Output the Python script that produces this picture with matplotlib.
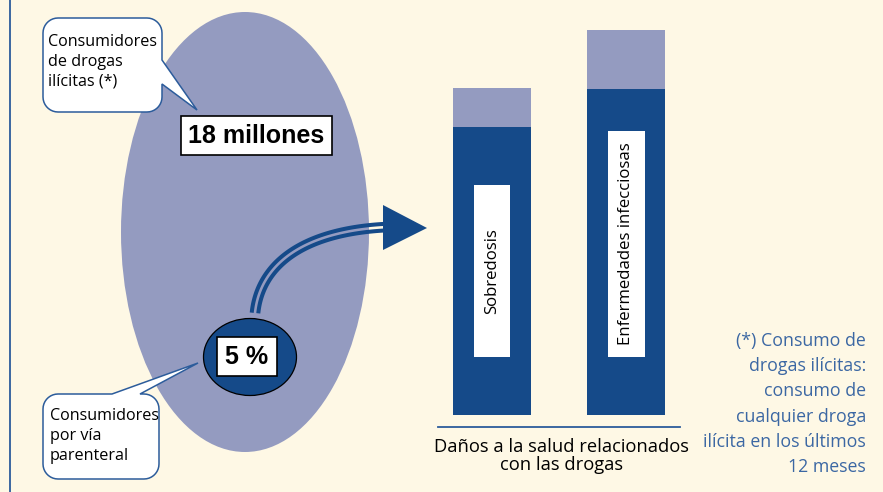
import numpy as np
import matplotlib
matplotlib.use("Agg")
import matplotlib.pyplot as plt
from matplotlib.patches import Ellipse, Rectangle, Polygon

# data
categories = ["Sobredosis", "Enfermedades infecciosas"]
total_harm = [327, 385]
parenteral_harm = [288, 326]
total_users = "18 millones"
parenteral_share = "5 %"
callout_total = "Consumidores\nde drogas\nilícitas (*)"
callout_parenteral = "Consumidores\npor vía\nparenteral"
xlabel = "Daños a la salud relacionados\ncon las drogas"
footnote = ["(*) Consumo de", "drogas ilícitas:", "consumo de",
            "cualquier droga", "ilícita en los últimos", "12 meses"]

BG = "#fef8e5"
LIGHT = "#949bc0"
DARK = "#154a89"
EDGE = "#2c5c9b"
NOTE = "#3b67a3"
FONT = "Open Sans"

W, H = 883, 492
fig = plt.figure(figsize=(W / 100, H / 100), dpi=100, facecolor=BG)


def px_axes(zorder):
    a = fig.add_axes([0, 0, 1, 1], zorder=zorder)
    a.set_xlim(0, W)
    a.set_ylim(H, 0)
    a.axis("off")
    a.patch.set_alpha(0)
    return a


ax = px_axes(0)

# left border line
ax.plot([10, 10], [0, H], color=EDGE, lw=1.3)

# big ellipse and small one
ax.add_patch(Ellipse((245, 232), 248, 440, fc=LIGHT, ec="none"))
ax.add_patch(Ellipse((250, 357), 93, 77, fc=DARK, ec="black", lw=0.9))

# curved double arrow
P = np.array([[255, 313], [260, 265], [302, 231], [388, 227]], float)
t = np.linspace(0, 1, 80)[:, None]
curve = ((1 - t) ** 3 * P[0] + 3 * (1 - t) ** 2 * t * P[1]
         + 3 * (1 - t) * t ** 2 * P[2] + t ** 3 * P[3])
deriv = (3 * (1 - t) ** 2 * (P[1] - P[0]) + 6 * (1 - t) * t * (P[2] - P[1])
         + 3 * t ** 2 * (P[3] - P[2]))
nrm = np.column_stack([-deriv[:, 1], deriv[:, 0]])
nrm /= np.linalg.norm(nrm, axis=1)[:, None]
for s in (-3.3, 3.3):
    c = curve + s * nrm
    ax.plot(c[:, 0], c[:, 1], color=DARK, lw=2.9, solid_capstyle="butt")
ax.add_patch(Polygon([[383, 205], [427, 228], [383, 250]], closed=True,
                     fc=DARK, ec="none"))


def bubble(x0, y0, x1, y1, r, edge, a, b, tip):
    pts = []

    def arc(cx, cy, a0, a1):
        for ang in np.radians(np.linspace(a0, a1, 10)):
            pts.append((cx + r * np.cos(ang), cy + r * np.sin(ang)))

    pts.append((x0 + r, y0))
    if edge == "top":
        pts += [(a, y0), tip, (b, y0)]
    arc(x1 - r, y0 + r, -90, 0)
    if edge == "right":
        pts += [(x1, a), tip, (x1, b)]
    arc(x1 - r, y1 - r, 0, 90)
    arc(x0 + r, y1 - r, 90, 180)
    arc(x0 + r, y0 + r, 180, 270)
    return Polygon(pts, closed=True, fc="white", ec=EDGE, lw=1.1, zorder=3)


ax.add_patch(bubble(43, 18, 162, 112, 15, "right", 60, 84, (197, 110)))
ax.add_patch(bubble(43, 394, 159, 479, 15, "top", 112, 140, (198, 363)))
ax.text(48, 62, callout_total, fontsize=11.6, family=FONT, va="center",
        ha="left", linespacing=1.3, zorder=4)
ax.text(50, 436, callout_parenteral, fontsize=11.6, family=FONT, va="center",
        ha="left", linespacing=1.3, zorder=4)

# value boxes
ax.add_patch(Rectangle((181, 116), 151, 39, fc="white", ec="black", lw=1.2))
ax.text(256.5, 136, total_users, fontsize=18, family="Liberation Sans",
        weight="bold", ha="center", va="center")
ax.add_patch(Rectangle((217, 337), 60, 39, fc="white", ec="black", lw=1.2))
ax.text(247, 357, parenteral_share, fontsize=18, family="Liberation Sans",
        weight="bold", ha="center", va="center")

# bars
axb = fig.add_axes([438 / W, (H - 427) / H, 242 / W, 427 / H], zorder=1)
axb.patch.set_alpha(0)
x = np.arange(len(categories))
light_part = [tt - p for tt, p in zip(total_harm, parenteral_harm)]
axb.bar(x, parenteral_harm, width=0.582, color=DARK)
axb.bar(x, light_part, bottom=parenteral_harm, width=0.582, color=LIGHT)
axb.set_xlim(-0.403, 1.403)
axb.set_ylim(-12, 415)
for sp in ("top", "left", "right"):
    axb.spines[sp].set_visible(False)
axb.spines["bottom"].set_color(EDGE)
axb.spines["bottom"].set_linewidth(1.3)
axb.set_xticks([])
axb.set_yticks([])

axt = px_axes(2)
label_boxes = [(474, 185, 36, 172), (608, 131, 37, 226)]
for (bx, by, bw, bh), name in zip(label_boxes, categories):
    axt.add_patch(Rectangle((bx, by), bw, bh, fc="white", ec="none"))
    axt.text(bx + bw / 2, by + bh / 2, name, rotation=90, fontsize=12.1,
             family=FONT, ha="center", va="center")

axt.text(562, 456, xlabel, fontsize=13.2, family=FONT, ha="center",
         va="center", linespacing=1.0)

for i, line in enumerate(footnote):
    axt.text(866, 341 + i * 25.2, line, fontsize=12.8, family=FONT,
             color=NOTE, ha="right", va="center")

fig.savefig("out.png", dpi=100, facecolor=BG)
